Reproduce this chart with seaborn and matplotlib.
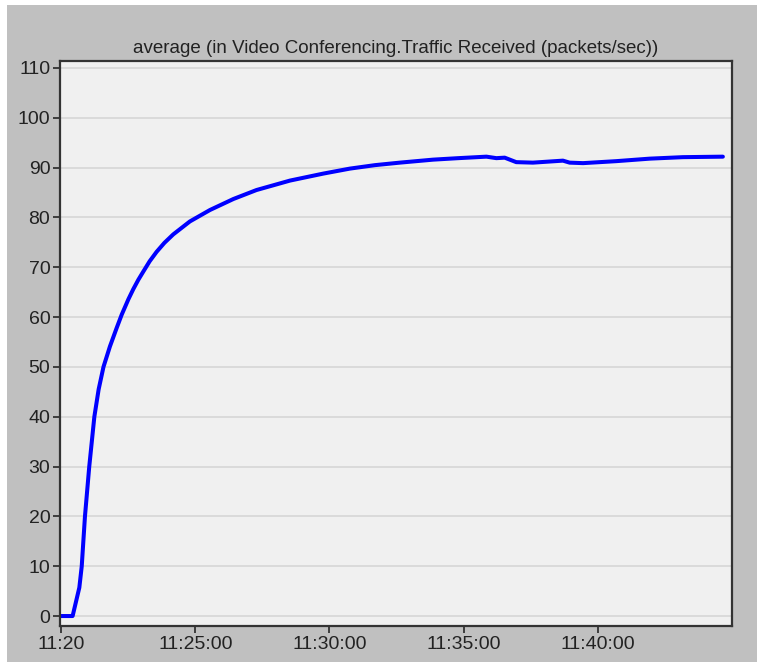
import matplotlib
matplotlib.use("Agg")
import matplotlib.pyplot as plt
import seaborn as sns
import pandas as pd
from matplotlib.patches import Rectangle

# minutes after 11:20
minutes = [0, 0.43, 0.68, 0.77, 0.89, 1.05, 1.24, 1.40, 1.58, 1.82, 2.07, 2.26,
           2.51, 2.69, 2.88, 3.06, 3.30, 3.56, 3.85, 4.18, 4.80, 5.55, 6.42,
           7.28, 8.53, 9.77, 10.76, 11.7, 12.62, 13.86, 14.8, 15.85, 16.22,
           16.53, 16.96, 17.58, 18.7, 18.95, 19.45, 20.69, 21.93, 23.17, 24.66]
packets = [0, 0, 5.7, 10.0, 20.0, 30.0, 40.0, 45.5, 50.0, 54.1, 57.8, 60.5,
           63.6, 65.6, 67.5, 69.1, 71.2, 73.1, 74.9, 76.6, 79.2, 81.5, 83.7,
           85.5, 87.4, 88.8, 89.8, 90.5, 91.0, 91.6, 91.9, 92.2, 91.9,
           92.0, 91.1, 91.0, 91.4, 91.0, 90.9, 91.3, 91.8, 92.1, 92.2]
x_tick_pos = [0, 5, 10, 15, 20]
x_tick_labels = ["11:20", "11:25:00", "11:30:00", "11:35:00", "11:40:00"]
y_ticks = list(range(0, 111, 10))
title = "average (in Video Conferencing.Traffic Received (packets/sec))"

sns.set_style("white")
plt.rcParams['font.family'] = ['Liberation Sans Narrow', 'Liberation Sans', 'DejaVu Sans']

df = pd.DataFrame({"t": minutes, "v": packets})

fig = plt.figure(figsize=(7.57, 6.62), dpi=100, facecolor="#c0c0c0")
fig.patches.append(Rectangle((0, 1 - 5/662), 1, 5/662, transform=fig.transFigure,
                             facecolor="white", edgecolor="none", zorder=0))
fig.patches.append(Rectangle((0, 0), 7/757, 1, transform=fig.transFigure,
                             facecolor="white", edgecolor="none", zorder=0))
ax = fig.add_axes([60/757, 1 - 626/662, (732 - 60)/757, (626 - 61)/662])
ax.set_facecolor("#f0f0f0")

sns.lineplot(data=df, x="t", y="v", ax=ax, color="#0000ff", linewidth=2.9)
for line in ax.get_lines():
    line.set_solid_joinstyle("round")

ax.set_xlim(-0.04, 25.0)
ax.set_ylim(-2.0, 111.4)
ax.set_yticks(y_ticks)
ax.set_xticks(x_tick_pos)
ax.set_xticklabels(x_tick_labels)
ax.yaxis.grid(True, color="#d6d6d6", linewidth=1.2)
ax.xaxis.grid(False)
ax.set_xlabel("")
ax.set_ylabel("")
for s in ax.spines.values():
    s.set_color("#333333")
    s.set_linewidth(1.6)
ax.tick_params(axis="both", direction="out", length=5, width=1.3, color="#333333",
               labelsize=14, labelcolor="#222222", pad=2)
ax.tick_params(axis="both", left=True, bottom=True)
ax.set_title(title, fontsize=13.5, color="#222222", pad=6)

fig.savefig("out.png", dpi=100, facecolor=fig.get_facecolor())
